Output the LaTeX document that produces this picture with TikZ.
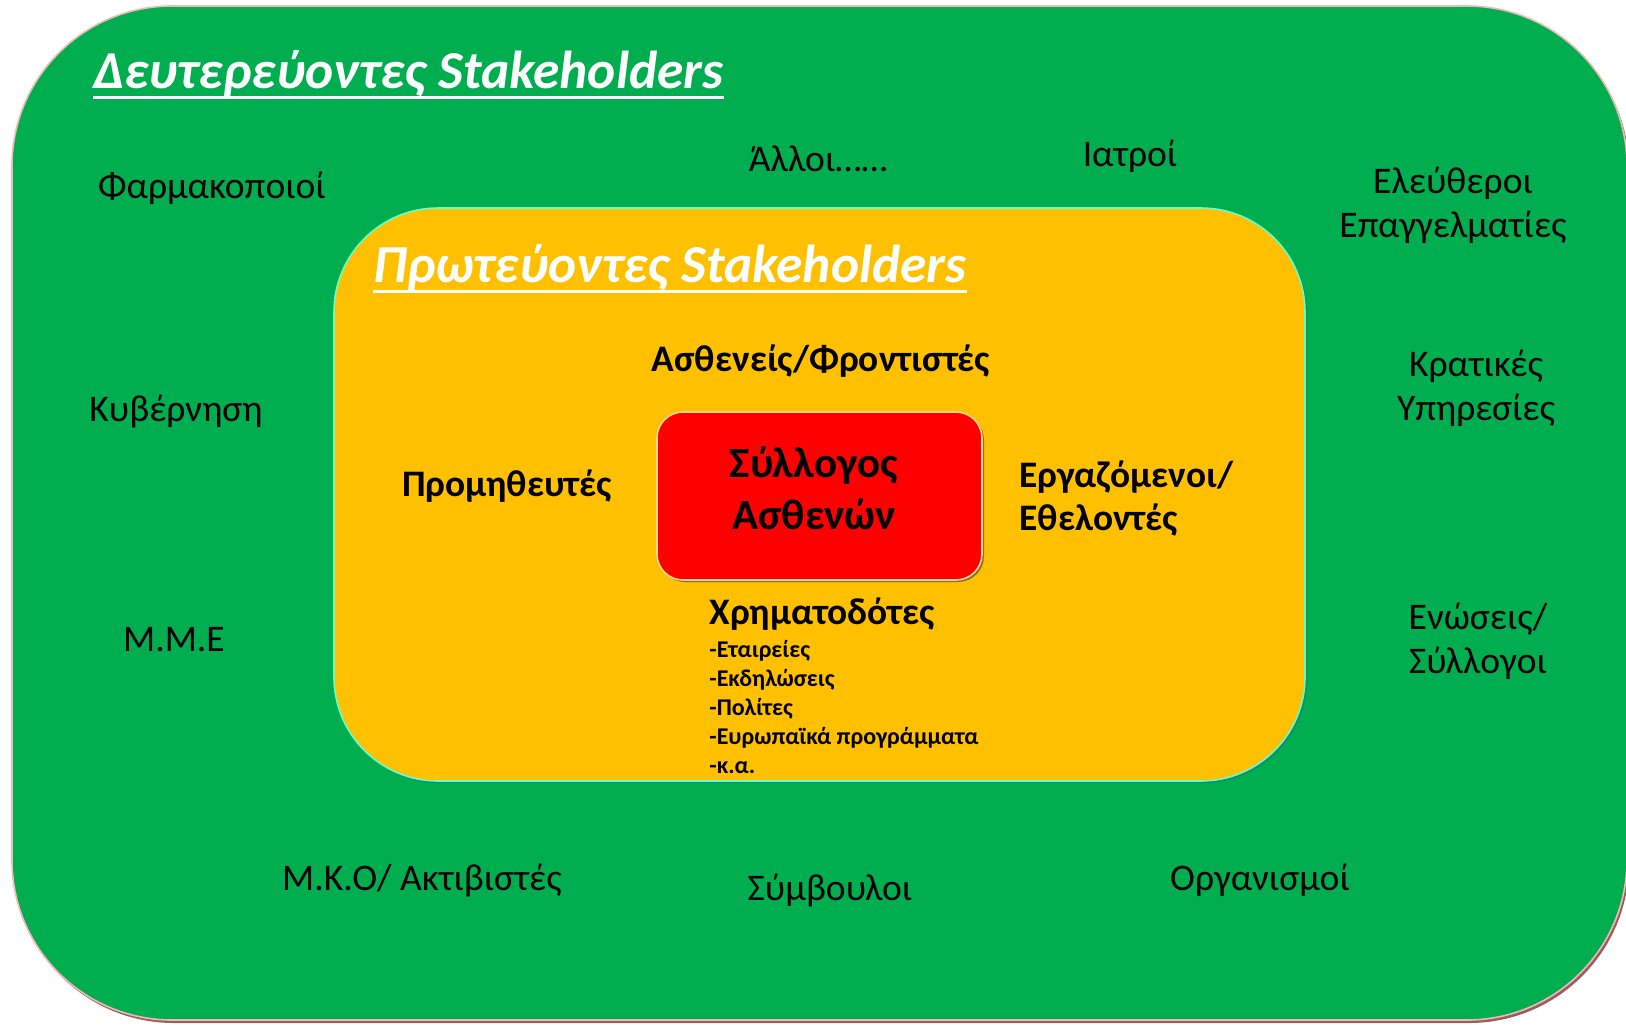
\documentclass[tikz,border=0pt]{standalone}
\usepackage{fontspec}
\setmainfont{Carlito}
\definecolor{grn}{HTML}{00AE50}
\definecolor{yel}{HTML}{FFC000}
\definecolor{rd}{HTML}{FF0000}
\definecolor{grnedge}{HTML}{F2B8B8}
\definecolor{grnshadow}{HTML}{9A5E5E}
\definecolor{yeledge}{HTML}{66FFCC}
\definecolor{yelshadow}{HTML}{138A6A}
\definecolor{rdedge}{HTML}{FFD890}
\definecolor{rdshadow}{HTML}{8E6A3A}
\begin{document}
\begin{tikzpicture}[x=0.5pt,y=-0.5pt,
  sec/.style={font=\fontsize{18.8}{22}\selectfont, align=center, inner sep=0pt, text=black},
  prim/.style={font=\bfseries\fontsize{18.7}{21.5}\selectfont, inner sep=0pt, text=black},
  hd/.style={font=\bfseries\itshape\fontsize{26.7}{31}\selectfont, text=white, inner sep=0pt},
  uline/.style={draw=white, line width=1.5pt},
  lst/.style={font=\bfseries\fontsize{12}{14.5}\selectfont, inner sep=0pt, align=left, text=black}]
\useasboundingbox (0,0) rectangle (1626,1024);
\fill[white] (0,0) rectangle (1626,1024);
% outer green box
\fill[grnshadow, rounded corners=80pt] (14,9) rectangle (1629,1023);
\path[fill=grn, draw=grnedge, line width=0.8pt, rounded corners=80pt] (12,6) rectangle (1627,1020);
% yellow box
\fill[yelshadow, rounded corners=52pt] (335,210) rectangle (1307,783);
\path[fill=yel, draw=yeledge, line width=0.8pt, rounded corners=52pt] (334,208) rectangle (1305,781);
% red box
\fill[rdshadow, rounded corners=13pt] (659,414) rectangle (984,582);
\path[fill=rd, draw=rdedge, line width=0.8pt, rounded corners=13pt] (657,412) rectangle (982,580);

% headings
\node[hd, anchor=base west] (sechd) at (93,88) {Δευτερεύοντες Stakeholders};
\draw[uline] ([yshift=-4.5pt]sechd.base west) -- ([yshift=-4.5pt]sechd.base east);
\node[hd, anchor=base west] (primhd) at (373,282) {Πρωτεύοντες Stakeholders};
\draw[uline] ([yshift=-4.5pt]primhd.base west) -- ([yshift=-4.5pt]primhd.base east);

% secondary stakeholders
\node[sec] (farm) at (212,188) {Φαρμακοποιοί};
\node[sec] (alloi) at (818,159) {Άλλοι……};
\node[sec] (iatroi) at (1130,156) {Ιατροί};
\node[sec] (eleft) at (1453,205) {Ελεύθεροι\\Επαγγελματίες};
\node[sec] (kyv) at (176,411) {Κυβέρνηση};
\node[sec] (krat) at (1476,388) {Κρατικές\\Υπηρεσίες};
\node[sec] (mme) at (174,640) {Μ.Μ.Ε};
\node[sec] (enos) at (1478,641) {Ενώσεις/\\Σύλλογοι};
\node[sec] (mko) at (422,880) {Μ.Κ.Ο/ Ακτιβιστές};
\node[sec] (symv) at (830,890) {Σύμβουλοι};
\node[sec] (org) at (1260,880) {Οργανισμοί};

% primary stakeholders
\node[prim] (asth) at (821,361) {Ασθενείς/Φροντιστές};
\node[prim] (prom) at (507,486) {Προμηθευτές};
\node[prim, anchor=west, align=left] (erg) at (1019,498) {Εργαζόμενοι/\\Εθελοντές};
\node[font=\bfseries\fontsize{21.5}{26}\selectfont, align=center, inner sep=0pt] (syl) at (814,488) {Σύλλογος\\Ασθενών};
\node[prim, anchor=west] (xrim) at (709,614) {Χρηματοδότες};
\node[lst, anchor=north west] (xlist) at (709,640) {-Εταιρείες\\-Εκδηλώσεις\\-Πολίτες\\-Ευρωπαϊκά προγράμματα\\-κ.α.};
\end{tikzpicture}
\end{document}
